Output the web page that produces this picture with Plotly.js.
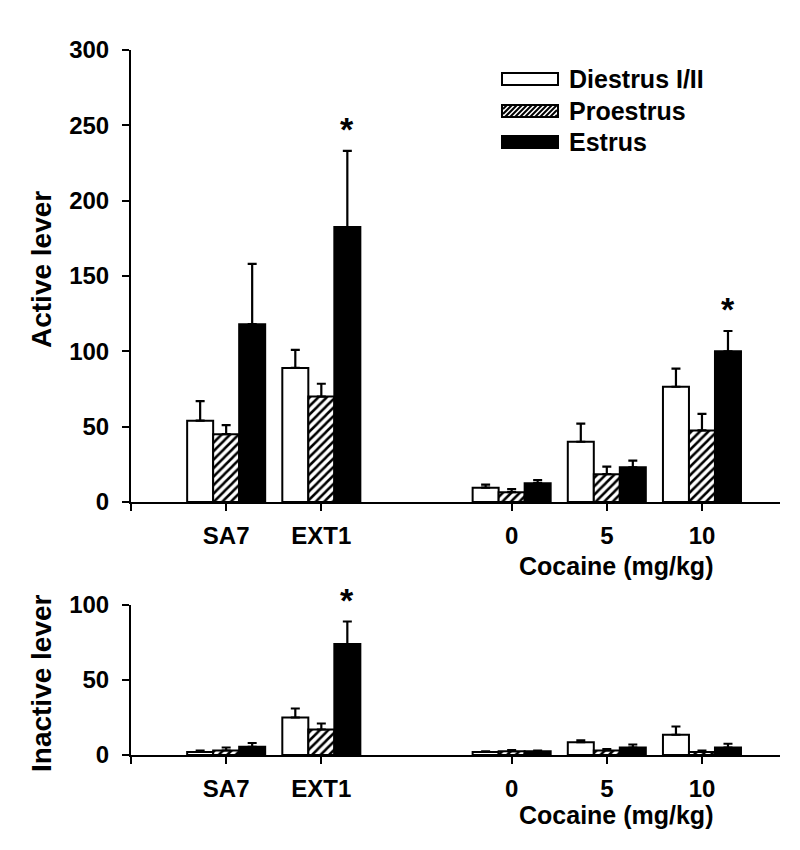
<!DOCTYPE html>
<html>
<head>
<meta charset="utf-8">
<script src="https://cdn.plot.ly/plotly-3.0.1.min.js"></script>
<style>html,body{margin:0;padding:0;background:#fff;}#chart{width:800px;height:850px;}</style>
</head>
<body>
<div id="chart"></div>
<script>
// ---- data ----
const categories = ["SA7", "EXT1", "0", "5", "10"];
const seriesNames = ["Diestrus I/II", "Proestrus", "Estrus"];

// Active lever (top panel)
const activeDiestrus    = [54, 89, 9.5, 40, 76.5];
const activeDiestrusErr = [13, 12, 2, 12, 12];
const activeProestrus    = [45, 70, 6.5, 18.5, 47.5];
const activeProestrusErr = [6, 8.5, 2, 5, 11];
const activeEstrus    = [118, 182.5, 12.5, 23, 100];
const activeEstrusErr = [40, 50.5, 2, 4.5, 13.5];

// Inactive lever (bottom panel)
const inactiveDiestrus    = [2, 25, 2, 8.5, 13.5];
const inactiveDiestrusErr = [1, 6, 0.5, 1.3, 5.5];
const inactiveProestrus    = [3, 17, 2.5, 3, 2];
const inactiveProestrusErr = [2, 4, 0.8, 1, 1];
const inactiveEstrus    = [5.5, 74, 2.5, 5, 5];
const inactiveEstrusErr = [2.5, 15, 0.5, 2, 2.5];

// significance markers (Estrus bars)
const activeStars = ["EXT1", "10"];
const inactiveStars = ["EXT1"];

const xAxisLabel = "Cocaine (mg/kg)";
const yTopLabel = "Active lever";
const yBottomLabel = "Inactive lever";

// ---- layout helpers ----
const W = 800, H = 850;
const PX = x => x / W;
const PY = y => 1 - y / H;
const FONT = "Liberation Sans, Arial, Helvetica, sans-serif";
// a gap between the SA7/EXT1 block and the cocaine-dose block
const xpos = categories.map((c, i) => (i < 2 ? i + 1 : i + 2));
const BARGAP = 0.18;
const barOffset = (1 - BARGAP) / 3;

const styles = [
  {color: "white", line: {color: "black", width: 2}},
  {color: "white", line: {color: "black", width: 2},
   pattern: {shape: "/", fgcolor: "black", bgcolor: "white", size: 6, solidity: 0.42}},
  {color: "black", line: {color: "black", width: 2}}
];

function makeTrace(name, vals, errs, si, xa, ya) {
  return {
    type: "bar", name: name, x: xpos, y: vals, xaxis: xa, yaxis: ya,
    marker: styles[si], showlegend: false, hoverinfo: "skip",
    error_y: {type: "data", symmetric: false, array: errs, arrayminus: errs.map(() => 0),
              color: "black", thickness: 2.2, width: 4.5}
  };
}

const data = [
  makeTrace(seriesNames[0], activeDiestrus, activeDiestrusErr, 0, "x", "y"),
  makeTrace(seriesNames[1], activeProestrus, activeProestrusErr, 1, "x", "y"),
  makeTrace(seriesNames[2], activeEstrus, activeEstrusErr, 2, "x", "y"),
  makeTrace(seriesNames[0], inactiveDiestrus, inactiveDiestrusErr, 0, "x2", "y2"),
  makeTrace(seriesNames[1], inactiveProestrus, inactiveProestrusErr, 1, "x2", "y2"),
  makeTrace(seriesNames[2], inactiveEstrus, inactiveEstrusErr, 2, "x2", "y2")
];

const tickFont = {family: FONT, size: 24, color: "black", weight: "bold"};
function xaxisDef(anchor) {
  return {
    domain: [PX(131), PX(780)], range: [0, 6.82], anchor: anchor,
    tickmode: "array", tickvals: [0].concat(xpos), ticktext: [""].concat(categories),
    showline: true, linecolor: "black", linewidth: 2,
    ticks: "outside", ticklen: 7, tickwidth: 2, tickcolor: "black",
    ticklabelstandoff: 4,
    tickfont: tickFont, showgrid: false, zeroline: false, fixedrange: true
  };
}
function yaxisDef(anchor, dom, rng) {
  return {
    domain: dom, range: rng, anchor: anchor, dtick: 50, tick0: 0,
    showline: true, linecolor: "black", linewidth: 2,
    ticks: "outside", ticklen: 7, tickwidth: 2, tickcolor: "black",
    ticklabelstandoff: 8,
    tickfont: tickFont, showgrid: false, zeroline: false, fixedrange: true
  };
}

const annotations = [];
const labelFont = {family: FONT, size: 25, color: "black", weight: "bold"};
const titleFont = {family: FONT, size: 28, color: "black", weight: "bold"};

annotations.push({xref: "paper", yref: "paper", x: PX(41), y: PY(270), text: yTopLabel,
  textangle: -90, showarrow: false, font: titleFont, xanchor: "center", yanchor: "middle"});
annotations.push({xref: "paper", yref: "paper", x: PX(41), y: PY(683), text: yBottomLabel,
  textangle: -90, showarrow: false, font: titleFont, xanchor: "center", yanchor: "middle"});
annotations.push({xref: "paper", yref: "paper", x: PX(616), y: PY(566), text: xAxisLabel,
  showarrow: false, font: labelFont, xanchor: "center", yanchor: "middle"});
annotations.push({xref: "paper", yref: "paper", x: PX(616), y: PY(815), text: xAxisLabel,
  showarrow: false, font: labelFont, xanchor: "center", yanchor: "middle"});

const starFont = {family: FONT, size: 34, color: "black", weight: "bold"};
activeStars.forEach(c => {
  const i = categories.indexOf(c);
  annotations.push({xref: "x", yref: "y", x: xpos[i] + barOffset, y: activeEstrus[i] + activeEstrusErr[i],
    text: "*", showarrow: false, font: starFont, xanchor: "center", yanchor: "bottom", yshift: 1});
});
inactiveStars.forEach(c => {
  const i = categories.indexOf(c);
  annotations.push({xref: "x2", yref: "y2", x: xpos[i] + barOffset, y: inactiveEstrus[i] + inactiveEstrusErr[i],
    text: "*", showarrow: false, font: starFont, xanchor: "center", yanchor: "bottom", yshift: 1});
});

// ---- hand-drawn legend (wide swatches like the original) ----
const shapes = [];
const legX0 = 502, legX1 = 558;
const legRows = [{y0: 73, y1: 85}, {y0: 105, y1: 117}, {y0: 136, y1: 148}];
const legText = [79, 111, 142];
legRows.forEach((r, si) => {
  shapes.push({type: "rect", xref: "paper", yref: "paper",
    x0: PX(legX0), x1: PX(legX1), y0: PY(r.y1), y1: PY(r.y0),
    fillcolor: si === 2 ? "black" : "white", line: {color: "black", width: 2}, layer: "above"});
  annotations.push({xref: "paper", yref: "paper", x: PX(567), y: PY(legText[si]), text: seriesNames[si],
    showarrow: false, font: labelFont, xanchor: "left", yanchor: "middle"});
});
// hatch lines inside the Proestrus swatch
(function () {
  const r = legRows[1];
  const h = r.y1 - r.y0;
  const xa = legX0 + 1, xb = legX1 - 1;
  for (let c = legX0 - h; c < legX1; c += 5) {
    let sx = c, sy = r.y1, ex = c + h, ey = r.y0;
    if (sx < xa) { sy = r.y1 - (xa - sx); sx = xa; }
    if (ex > xb) { ey = r.y1 - (xb - c); ex = xb; }
    if (ex <= sx) continue;
    shapes.push({type: "line", xref: "paper", yref: "paper",
      x0: PX(sx), y0: PY(sy), x1: PX(ex), y1: PY(ey),
      line: {color: "black", width: 2}, layer: "above"});
  }
})();

const layout = {
  width: W, height: H,
  margin: {l: 0, r: 0, t: 0, b: 0, pad: 0},
  paper_bgcolor: "white", plot_bgcolor: "white",
  barmode: "group", bargap: BARGAP, bargroupgap: 0,
  showlegend: false,
  font: {family: FONT, color: "black"},
  xaxis: xaxisDef("y"),
  yaxis: yaxisDef("x", [PY(502), PY(50)], [0, 300]),
  xaxis2: xaxisDef("y2"),
  yaxis2: yaxisDef("x2", [PY(755), PY(605)], [0, 100]),
  annotations: annotations,
  shapes: shapes
};

Plotly.newPlot("chart", data, layout, {staticPlot: true, displayModeBar: false});
</script>
</body>
</html>
